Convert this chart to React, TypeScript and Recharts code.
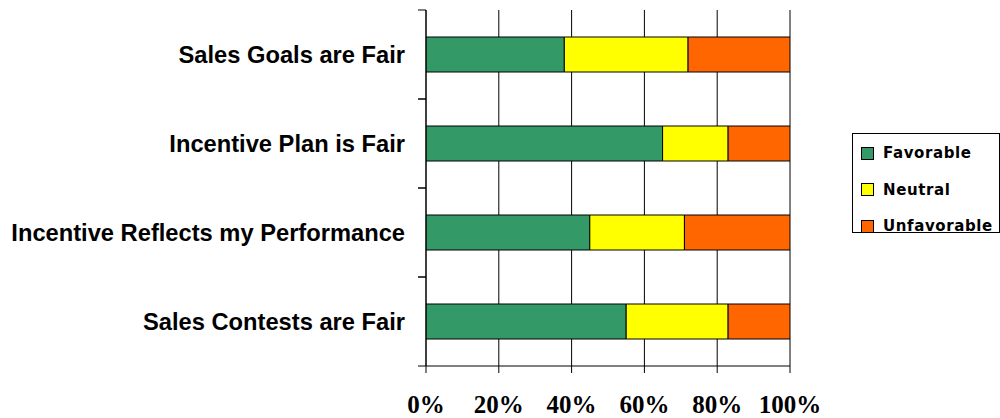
import React from "react";
import { BarChart, Bar, XAxis, YAxis, CartesianGrid, Legend } from "recharts";

const categories = [
  "Sales Goals are Fair",
  "Incentive Plan is Fair",
  "Incentive Reflects my Performance",
  "Sales Contests are Fair",
];
const favorable = [38, 65, 45, 55];
const neutral = [34, 18, 26, 28];
const unfavorable = [28, 17, 29, 17];
const xTicks = [0, 20, 40, 60, 80, 100];

const series = [
  { key: "Favorable", color: "#339966", values: favorable },
  { key: "Neutral", color: "#FFFF00", values: neutral },
  { key: "Unfavorable", color: "#FF6600", values: unfavorable },
];

const data = categories.map((name, i) => {
  const row: Record<string, string | number> = { name };
  series.forEach((s) => {
    row[s.key] = s.values[i];
  });
  return row;
});

const CHART_W = 1000;
const CHART_H = 418;
const MARGIN_TOP = 10;
const XAXIS_H = 52;
const YAXIS_W = 426;
const Y_TICK_SIZE = 8;
const Y_TICK_MARGIN = 13;
const BAND = (CHART_H - MARGIN_TOP - XAXIS_H) / categories.length;

const YTick = (props: any) => {
  const { x, y, payload } = props;
  const axisX = x + Y_TICK_SIZE + Y_TICK_MARGIN;
  return (
    <g>
      <line x1={axisX - Y_TICK_SIZE} x2={axisX} y1={y - BAND / 2} y2={y - BAND / 2} stroke="#000" />
      <line x1={axisX - Y_TICK_SIZE} x2={axisX} y1={y + BAND / 2} y2={y + BAND / 2} stroke="#000" />
      <text
        x={x}
        y={y}
        dy="0.355em"
        textAnchor="end"
        fontFamily="'Liberation Sans', Arial, sans-serif"
        fontWeight="bold"
        fontSize={23.7}
        fill="#000"
      >
        {payload.value}
      </text>
    </g>
  );
};

const LegendBox = () => (
  <div
    style={{
      boxSizing: "border-box",
      width: 148,
      height: 100,
      border: "1px solid #000",
      background: "#fff",
      paddingTop: 7,
      paddingLeft: 8,
      overflow: "visible",
    }}
  >
    {series.map((s, i) => (
      <div
        key={s.key}
        style={{
          display: "flex",
          alignItems: "center",
          height: 24,
          marginBottom: i < series.length - 1 ? 12.5 : 0,
        }}
      >
        <span
          style={{
            display: "inline-block",
            boxSizing: "border-box",
            width: 13,
            height: 13,
            background: s.color,
            border: "1px solid #000",
            marginRight: 9,
          }}
        />
        <span
          style={{
            fontFamily: "'DejaVu Sans', sans-serif",
            fontWeight: "bold",
            fontSize: 15,
            letterSpacing: 0.6,
            color: "#000",
          }}
        >
          {s.key}
        </span>
      </div>
    ))}
  </div>
);

export default function App() {
  return (
    <div style={{ position: "absolute", left: 0, top: 0, width: CHART_W, height: CHART_H, background: "#fff" }}>
      <BarChart
        width={CHART_W}
        height={CHART_H}
        data={data}
        layout="vertical"
        margin={{ top: MARGIN_TOP, right: 62, bottom: 0, left: 0 }}
        barSize={35}
      >
        <CartesianGrid horizontal={false} vertical={true} stroke="#000" />
        <XAxis
          type="number"
          domain={[0, 100]}
          ticks={xTicks}
          tickFormatter={(v: number) => `${v}%`}
          height={XAXIS_H}
          axisLine={{ stroke: "#000" }}
          tickLine={{ stroke: "#000" }}
          tickSize={7}
          tickMargin={22}
          tick={{
            fontFamily: "'Liberation Serif', 'Times New Roman', serif",
            fontWeight: "bold",
            fontSize: 25,
            fill: "#000",
          }}
          allowDataOverflow
        />
        <YAxis
          type="category"
          dataKey="name"
          width={YAXIS_W}
          axisLine={{ stroke: "#000" }}
          tickLine={false}
          tickSize={Y_TICK_SIZE}
          tickMargin={Y_TICK_MARGIN}
          tick={<YTick />}
          interval={0}
        />
        <Legend
          layout="vertical"
          align="right"
          verticalAlign="middle"
          content={<LegendBox />}
          wrapperStyle={{ left: 852, top: 133, width: 148 }}
        />
        {series.map((s) => (
          <Bar
            key={s.key}
            dataKey={s.key}
            stackId="a"
            fill={s.color}
            stroke="#000"
            strokeWidth={1}
            isAnimationActive={false}
          />
        ))}
      </BarChart>
    </div>
  );
}
